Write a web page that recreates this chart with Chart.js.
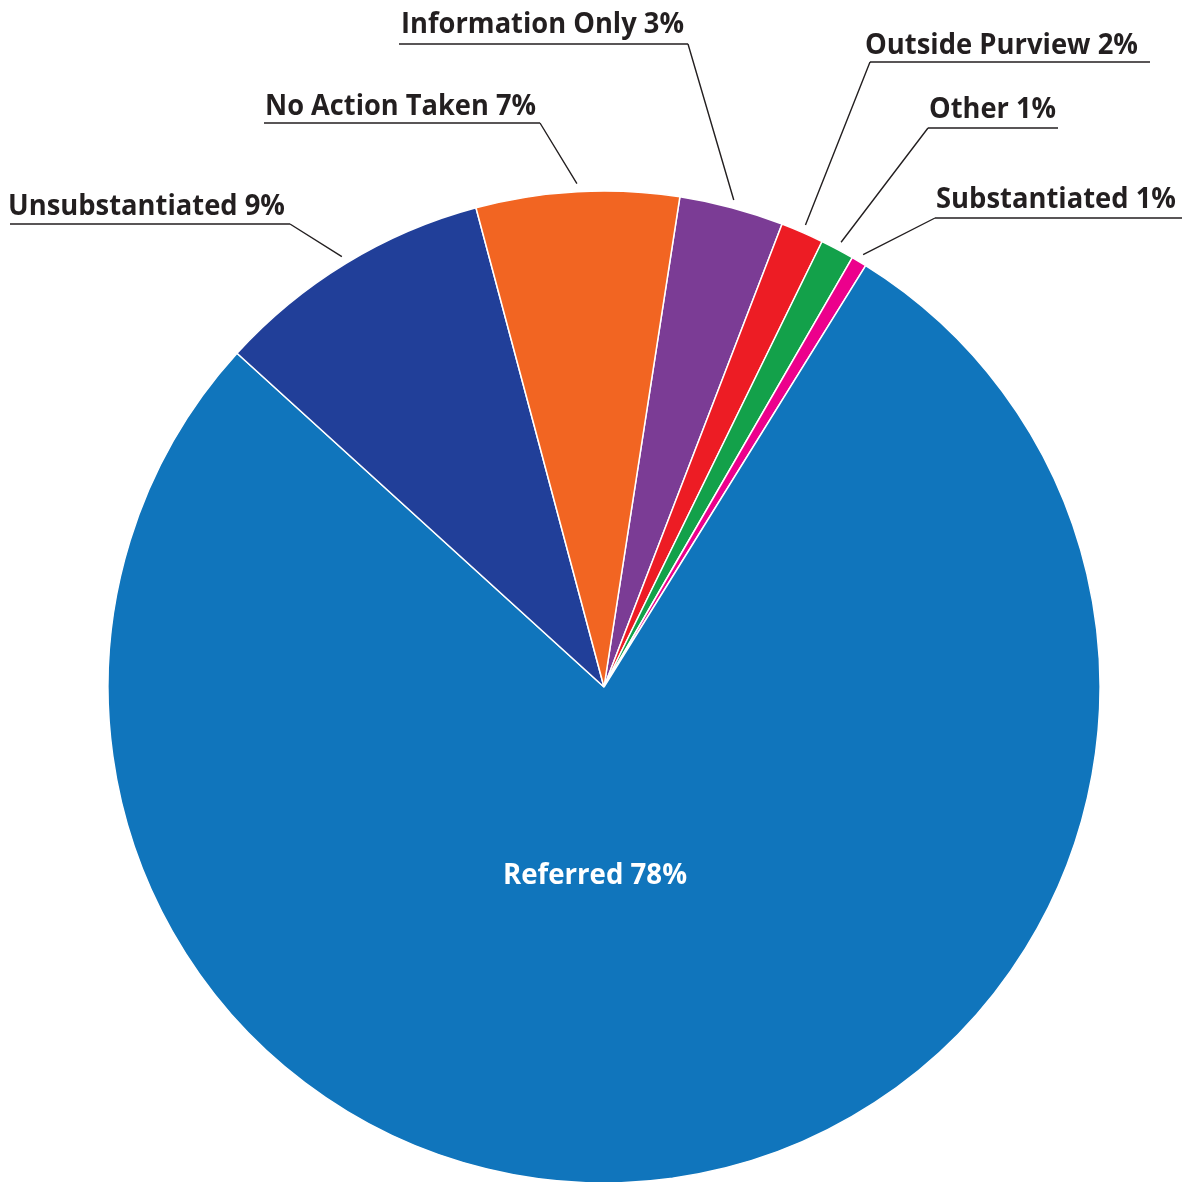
<!DOCTYPE html>
<html>
<head>
<meta charset="utf-8">
<script src="https://cdn.jsdelivr.net/npm/chart.js@4"></script>
<style>
  html, body { margin: 0; padding: 0; background: #ffffff; }
  #wrap { width: 1184px; height: 1182px; position: relative; }
</style>
</head>
<body>
<div id="wrap"><canvas id="pie"></canvas></div>
<script>
// slices in clockwise order, starting just right of 12 o'clock
var categories = ['Information Only', 'Outside Purview', 'Other', 'Substantiated', 'Referred', 'Unsubstantiated', 'No Action Taken'];
var shares = [3.4, 1.4, 1.1, 0.5, 77.9, 9.1, 6.6];
var percentLabels = ['3%', '2%', '1%', '1%', '78%', '9%', '7%'];
var colors = ['#7b3c95', '#ed1c24', '#13a14a', '#ec008c', '#1075bc', '#213f99', '#f26522'];

// label placement: text left x, baseline y, target text width, underline y, underline x1..x2, leader side
var labelLayout = [
  {x: 401, base: 33, w: 283, uy: 44, ux1: 399, ux2: 688, side: 'right'},
  {x: 865, base: 54, w: 273, uy: 62, ux1: 870, ux2: 1150, side: 'left'},
  {x: 929, base: 118, w: 127, uy: 128, ux1: 928, ux2: 1058, side: 'left'},
  {x: 936, base: 208, w: 240, uy: 218, ux1: 935, ux2: 1182, side: 'left'},
  null,
  {x: 8, base: 215, w: 277, uy: 224, ux1: 10, ux2: 290, side: 'right'},
  {x: 265, base: 115, w: 271, uy: 123, ux1: 264, ux2: 540, side: 'right'}
];

var ink = '#231f20';
var labelFont = '700 28px "Open Sans", "DejaVu Sans", sans-serif';

function fitText(ctx, text, x, y, width) {
  var natural = ctx.measureText(text).width;
  ctx.save();
  ctx.translate(x, y);
  ctx.scale(width / natural, 1);
  ctx.fillText(text, 0, 0);
  ctx.restore();
}

var calloutPlugin = {
  id: 'callouts',
  afterDatasetsDraw: function(chart) {
    var ctx = chart.ctx;
    var meta = chart.getDatasetMeta(0);
    ctx.save();
    ctx.font = labelFont;
    ctx.textBaseline = 'alphabetic';
    ctx.textAlign = 'left';
    meta.data.forEach(function(arc, i) {
      var p = arc.getProps(['x', 'y', 'startAngle', 'endAngle', 'outerRadius'], true);
      var mid = (p.startAngle + p.endAngle) / 2;
      var text = categories[i] + ' ' + percentLabels[i];
      var lay = labelLayout[i];
      if (!lay) {
        // big slice gets its label inside, in white
        ctx.fillStyle = '#ffffff';
        ctx.textAlign = 'center';
        var tw = ctx.measureText(text).width;
        ctx.save();
        ctx.translate(p.x - 9, p.y + 197);
        ctx.scale(184 / tw, 1.05);
        ctx.fillText(text, 0, 0);
        ctx.restore();
        ctx.textAlign = 'left';
        return;
      }
      var ex = p.x + Math.cos(mid) * (p.outerRadius + 8);
      var ey = p.y + Math.sin(mid) * (p.outerRadius + 8);
      var sx = lay.side === 'right' ? lay.ux2 : lay.ux1;
      ctx.strokeStyle = ink;
      ctx.lineWidth = 1.4;
      ctx.beginPath();
      ctx.moveTo(lay.ux1, lay.uy);
      ctx.lineTo(lay.ux2, lay.uy);
      ctx.moveTo(sx, lay.uy);
      ctx.lineTo(ex, ey);
      ctx.stroke();
      ctx.fillStyle = ink;
      fitText(ctx, text, lay.x, lay.base, lay.w);
    });
    ctx.restore();
  }
};

new Chart('pie', {
  type: 'pie',
  data: {
    labels: categories,
    datasets: [{
      data: shares,
      backgroundColor: colors,
      borderColor: '#ffffff',
      borderWidth: 1.5,
      radius: 496
    }]
  },
  options: {
    responsive: true,
    maintainAspectRatio: false,
    animation: false,
    rotation: 8.8,
    layout: {padding: {left: 108, right: 84, top: 192, bottom: -2}},
    plugins: {
      legend: {display: false},
      tooltip: {enabled: false}
    }
  },
  plugins: [calloutPlugin]
});
</script>
</body>
</html>
